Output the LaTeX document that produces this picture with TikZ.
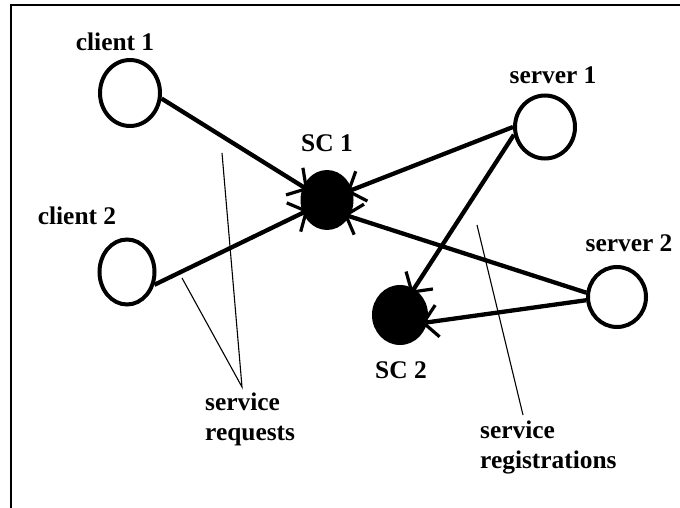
\documentclass[tikz,border=0pt]{standalone}
\usepackage{fontspec}
\setmainfont{Liberation Serif}
\usetikzlibrary{shapes.geometric,arrows.meta}
\begin{document}
\begin{tikzpicture}[x=1bp,y=-1bp,
  lbl/.style={font=\bfseries\fontsize{25.5}{30}\selectfont, inner sep=0pt},
  hollow/.style={ellipse, draw, line width=4bp, inner sep=0pt},
  filledsc/.style={ellipse, fill=black, inner sep=0pt},
  conn/.style={line width=4.3bp, -{Straight Barb[length=14bp,width=32bp,line width=3.2bp]}, shorten >=-6bp},
  callout/.style={line width=1.1bp}]
\useasboundingbox (0,0) rectangle (680,508);
\draw[line width=2bp] (11,508) -- (11,5) -- (680,5);
% nodes
\node[hollow, minimum width=60bp, minimum height=66bp] (c1) at (130,93) {};
\node[hollow, minimum width=55bp, minimum height=65bp] (c2) at (127,272) {};
\node[hollow, minimum width=60bp, minimum height=63bp] (s1) at (545,127) {};
\node[hollow, minimum width=58bp, minimum height=60bp] (s2) at (617,297) {};
\node[filledsc, minimum width=53bp, minimum height=60bp] (sc1) at (327,200) {};
\node[filledsc, minimum width=56bp, minimum height=60bp] (sc2) at (400,315) {};
% labels
\node[lbl] (lc1) at (115,42) {client 1};
\node[lbl] (lc2) at (77,216) {client 2};
\node[lbl] (lsc1) at (327,143) {SC 1};
\node[lbl] (ls1) at (553,75) {server 1};
\node[lbl] (ls2) at (629,243) {server 2};
\node[lbl] (lsc2) at (401,370) {SC 2};
\node[lbl, align=left, anchor=north west] (lreq) at (205,393) {service\\requests};
\node[lbl, align=left, anchor=north west] (lreg) at (480,421) {service\\registrations};
% connectors
\draw[conn] (c1.-10) -- (sc1.151);
\draw[conn] (c2.-25) -- (sc1.208);
\draw[conn] (s1.180) -- (sc1.22);
\draw[conn] (s1.194) -- (sc2.62);
\draw[conn] (s2.172) -- (sc1.-36);
\draw[conn] (s2.186) -- (sc2.-15);
% callouts
\coordinate (rq1) at (222,153);
\coordinate (rq2) at (182,278);
\coordinate (rqa) at (242,387);
\coordinate (rg1) at (477,225);
\coordinate (rga) at (523,415);
\draw[callout] (rq1) -- (rqa) -- (rq2);
\draw[callout] (rg1) -- (rga);
\end{tikzpicture}
\end{document}
